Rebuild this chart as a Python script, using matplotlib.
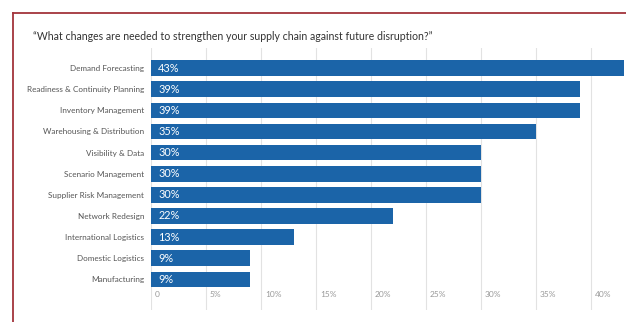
import matplotlib.pyplot as plt
import matplotlib.transforms as mtrans
from matplotlib.lines import Line2D

categories = ["Demand Forecasting", "Readiness & Continuity Planning", "Inventory Management",
              "Warehousing & Distribution", "Visibility & Data", "Scenario Management",
              "Supplier Risk Management", "Network Redesign", "International Logistics",
              "Domestic Logistics", "Manufacturing"]
values = [43, 39, 39, 35, 30, 30, 30, 22, 13, 9, 9]
xticks = [0, 5, 10, 15, 20, 25, 30, 35, 40]
xtick_labels = ["0", "5%", "10%", "15%", "20%", "25%", "30%", "35%", "40%"]
title = "\u201cWhat changes are needed to strengthen your supply chain against future disruption?\u201d"

BAR = "#1b64a8"
plt.rcParams['font.family'] = ['Lato', 'DejaVu Sans']

W, H = 626, 322
fig = plt.figure(figsize=(W / 100, H / 100), dpi=100)

# maroon frame (top and left edges)
fig.add_artist(Line2D([13 / W, 1], [1 - 13 / H, 1 - 13 / H], color="#a3343c", lw=1.3))
fig.add_artist(Line2D([13 / W, 13 / W], [0, 1 - 13 / H], color="#a3343c", lw=1.3))

fig.text(33 / W, 1 - 37 / H, title, fontsize=7.6, color="#333333", va="center", ha="left")

left, right, top, bottom = 151, 626, 48, 310
ax = fig.add_axes([left / W, 1 - bottom / H, (right - left) / W, (bottom - top) / H])

y = list(range(len(categories)))
ax.barh(y, values, height=0.74, color=BAR, zorder=3)
for yi, v in zip(y, values):
    ax.text(0.65, yi, f"{v}%", color="white", fontsize=7.8, va="center", ha="left", zorder=4)

ax.set_xlim(0, 43.2)
ax.set_ylim(11.45, -0.95)
ax.set_yticks(y)
ax.set_yticklabels(categories, fontsize=5.9, color="#555555")
ax.set_xticks(xticks)
ax.set_xticklabels(xtick_labels, fontsize=6, color="#999999", ha="left")
ax.tick_params(axis="y", length=0, pad=5)
ax.tick_params(axis="x", length=0, pad=-14)
off = mtrans.ScaledTranslation(4 / 100, 0, fig.dpi_scale_trans)
for lbl in ax.get_xticklabels():
    lbl.set_transform(lbl.get_transform() + off)
ax.grid(axis="x", color="#e2e2e2", lw=0.8, zorder=0)
for s in ax.spines.values():
    s.set_visible(False)

fig.savefig("out.png", dpi=100)
